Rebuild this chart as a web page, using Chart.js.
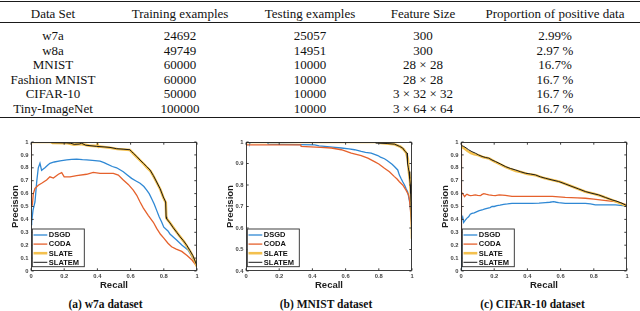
<!DOCTYPE html>
<html><head><meta charset="utf-8">
<script src="https://cdn.jsdelivr.net/npm/chart.js@4.4.0/dist/chart.umd.min.js"></script>
<style>
html,body{margin:0;padding:0;background:#fff;overflow:hidden;}
#root{position:relative;width:640px;height:311px;overflow:hidden;background:#fff;font-family:"Liberation Serif","DejaVu Serif",serif;color:#111;}
.cell{position:absolute;transform:translate(-50%,-50%);white-space:nowrap;font-size:13px;line-height:1;}
.rule{position:absolute;left:0;width:640px;background:#1a1a1a;}
.cap{position:absolute;transform:translate(-50%,-50%);white-space:nowrap;font-weight:bold;font-size:11.5px;line-height:1;}
canvas{position:absolute;}
</style></head><body><div id="root">
<div class="rule" style="top:0.5px;height:1.4px"></div>
<div class="rule" style="top:22px;height:0.8px"></div>
<div class="rule" style="top:116.8px;height:1.4px"></div>
<canvas id="cA" width="213" height="164" style="left:0px;top:134px"></canvas>
<canvas id="cB" width="213" height="164" style="left:215px;top:134px"></canvas>
<canvas id="cC" width="213" height="164" style="left:430px;top:134px"></canvas>
<div class="cap" id="capA" style="left:105.5px;top:305px"></div>
<div class="cap" id="capB" style="left:326px;top:305px"></div>
<div class="cap" id="capC" style="left:532.5px;top:305px"></div>
</div>
<script>
// ---------- table data ----------
const tableHeaders = ['Data Set', 'Training examples', 'Testing examples', 'Feature Size', 'Proportion of positive data'];
const dataSetNames = ['w7a', 'w8a', 'MNIST', 'Fashion MNIST', 'CIFAR-10', 'Tiny-ImageNet'];
const trainingExamples = ['24692', '49749', '60000', '60000', '50000', '100000'];
const testingExamples = ['25057', '14951', '10000', '10000', '10000', '10000'];
const featureSizes = ['300', '300', '28 \u00d7 28', '28 \u00d7 28', '3 \u00d7 32 \u00d7 32', '3 \u00d7 64 \u00d7 64'];
const positiveProportions = ['2.99%', '2.97 %', '16.7%', '16.7 %', '16.7 %', '16.7 %'];

// ---------- chart data ----------
const seriesNames = ['DSGD', 'CODA', 'SLATE', 'SLATEM'];
const captions = ['(a) w7a dataset', '(b) MNIST dataset', '(c) CIFAR-10 dataset'];
const recallTicks = [0, 0.2, 0.4, 0.6, 0.8, 1];

// [recall, precision] pairs
const w7aDSGD = [[0,0.36],[0.004,0.38],[0.012,0.47],[0.024,0.535],[0.035,0.7],[0.044,0.8],[0.054,0.835],[0.064,0.78],[0.074,0.79],[0.084,0.8],[0.1,0.82],[0.114,0.835],[0.14,0.845],[0.175,0.854],[0.215,0.862],[0.245,0.866],[0.275,0.868],[0.31,0.864],[0.335,0.862],[0.37,0.858],[0.416,0.852],[0.44,0.84],[0.456,0.83],[0.49,0.81],[0.516,0.8],[0.556,0.77],[0.58,0.745],[0.606,0.718],[0.63,0.7],[0.657,0.68],[0.68,0.655],[0.697,0.627],[0.712,0.6],[0.727,0.56],[0.742,0.52],[0.757,0.47],[0.772,0.42],[0.787,0.38],[0.8,0.34],[0.825,0.31],[0.837,0.287],[0.86,0.26],[0.877,0.24],[0.91,0.2],[0.948,0.16],[0.975,0.1],[1,0.04]];
const w7aCODA = [[0,1],[0,0.51],[0.008,0.51],[0.014,0.6],[0.024,0.64],[0.044,0.665],[0.064,0.68],[0.094,0.705],[0.114,0.73],[0.135,0.72],[0.165,0.75],[0.185,0.762],[0.2,0.73],[0.235,0.73],[0.275,0.739],[0.335,0.75],[0.375,0.765],[0.416,0.757],[0.496,0.757],[0.526,0.744],[0.556,0.705],[0.586,0.671],[0.616,0.627],[0.637,0.587],[0.657,0.535],[0.677,0.488],[0.707,0.43],[0.737,0.378],[0.757,0.33],[0.78,0.285],[0.8,0.255],[0.825,0.215],[0.847,0.188],[0.875,0.17],[0.908,0.152],[0.94,0.12],[0.97,0.085],[1,0.035]];
const w7aSLATE = [[0,1],[0.12,1],[0.13,0.993],[0.22,0.99],[0.26,0.98],[0.3,0.985],[0.35,0.972],[0.398,0.968],[0.4,0.99],[0.402,0.966],[0.476,0.956],[0.52,0.946],[0.596,0.938],[0.62,0.905],[0.64,0.88],[0.677,0.832],[0.7,0.8],[0.72,0.775],[0.74,0.73],[0.76,0.68],[0.78,0.63],[0.797,0.57],[0.812,0.53],[0.815,0.41],[0.84,0.368],[0.88,0.296],[0.92,0.23],[0.96,0.15],[0.99,0.07],[1,0.035]];
const w7aSLATEM = [[0,1],[0.12,1],[0.125,0.995],[0.215,0.993],[0.24,0.99],[0.26,0.982],[0.29,0.984],[0.305,0.99],[0.33,0.975],[0.396,0.966],[0.44,0.962],[0.476,0.958],[0.516,0.948],[0.56,0.944],[0.596,0.94],[0.606,0.925],[0.616,0.914],[0.637,0.888],[0.657,0.86],[0.677,0.835],[0.697,0.81],[0.717,0.783],[0.737,0.74],[0.757,0.69],[0.777,0.64],[0.797,0.574],[0.811,0.535],[0.814,0.42],[0.817,0.405],[0.837,0.373],[0.857,0.335],[0.878,0.3],[0.898,0.265],[0.918,0.235],[0.938,0.2],[0.958,0.157],[0.975,0.12],[0.988,0.078],[1,0.04]];

const mnistDSGD = [[0,1],[0.02,1],[0.022,0.992],[0.026,1],[0.13,1],[0.134,0.99],[0.414,0.987],[0.44,0.982],[0.474,0.98],[0.52,0.976],[0.574,0.972],[0.62,0.968],[0.654,0.964],[0.694,0.956],[0.72,0.952],[0.754,0.948],[0.794,0.937],[0.81,0.93],[0.834,0.922],[0.85,0.914],[0.864,0.906],[0.88,0.896],[0.894,0.886],[0.914,0.87],[0.924,0.846],[0.934,0.83],[0.944,0.815],[0.955,0.8],[0.964,0.784],[0.974,0.768],[0.984,0.729],[0.99,0.698],[0.994,0.658],[0.998,0.627],[1,0.6]];
const mnistCODA = [[0,1],[0,0.987],[0.33,0.987],[0.332,0.98],[0.45,0.975],[0.514,0.972],[0.574,0.964],[0.6,0.958],[0.634,0.948],[0.694,0.937],[0.734,0.925],[0.774,0.909],[0.8,0.898],[0.814,0.89],[0.834,0.878],[0.864,0.862],[0.894,0.839],[0.91,0.828],[0.924,0.815],[0.944,0.8],[0.964,0.776],[0.98,0.752],[0.985,0.73],[0.99,0.69],[0.994,0.65],[0.998,0.6],[1,0.56]];
const mnistSLATE = [[0,1],[0.8,1],[0.81,0.995],[0.89,0.99],[0.93,0.978],[0.95,0.965],[0.965,0.95],[0.975,0.92],[0.98,0.87],[0.988,0.82],[0.992,0.77],[0.995,0.745],[0.998,0.73],[0.999,0.65],[1,0.55]];
const mnistSLATEM = [[0,1],[0.78,1],[0.782,0.995],[0.85,0.993],[0.894,0.99],[0.91,0.985],[0.924,0.98],[0.944,0.972],[0.958,0.956],[0.97,0.948],[0.972,0.93],[0.974,0.9],[0.978,0.88],[0.982,0.862],[0.986,0.83],[0.99,0.8],[0.992,0.76],[0.994,0.72],[0.996,0.68],[0.998,0.627],[1,0.5]];

const cifarDSGD = [[0,0],[0,0.25],[0.002,0.38],[0.006,0.4],[0.01,0.42],[0.016,0.377],[0.026,0.395],[0.036,0.41],[0.046,0.42],[0.056,0.44],[0.066,0.447],[0.08,0.45],[0.096,0.46],[0.11,0.468],[0.127,0.473],[0.14,0.48],[0.157,0.486],[0.175,0.492],[0.187,0.5],[0.2,0.5],[0.217,0.506],[0.235,0.51],[0.257,0.517],[0.28,0.52],[0.307,0.525],[0.428,0.525],[0.47,0.526],[0.508,0.53],[0.535,0.533],[0.558,0.538],[0.575,0.533],[0.588,0.53],[0.628,0.525],[0.749,0.525],[0.78,0.52],[0.809,0.512],[0.93,0.512],[0.96,0.508],[1,0.504]];
const cifarCODA = [[0,0.25],[0,1],[0.002,0.59],[0.006,0.61],[0.01,0.6],[0.016,0.588],[0.022,0.577],[0.03,0.59],[0.036,0.595],[0.046,0.588],[0.056,0.584],[0.07,0.586],[0.086,0.59],[0.1,0.586],[0.117,0.584],[0.125,0.592],[0.137,0.6],[0.15,0.595],[0.167,0.59],[0.19,0.586],[0.207,0.584],[0.23,0.59],[0.267,0.587],[0.307,0.579],[0.488,0.579],[0.55,0.578],[0.628,0.571],[0.7,0.567],[0.749,0.564],[0.8,0.557],[0.849,0.55],[0.9,0.542],[0.93,0.538],[0.97,0.525],[1,0.512]];
const cifarSLATE = [[0,0.97],[0.01,0.96],[0.025,0.945],[0.04,0.93],[0.06,0.915],[0.08,0.905],[0.1,0.9],[0.13,0.884],[0.17,0.872],[0.2,0.85],[0.24,0.825],[0.27,0.805],[0.3,0.79],[0.33,0.776],[0.36,0.768],[0.4,0.752],[0.45,0.742],[0.5,0.72],[0.55,0.705],[0.6,0.69],[0.65,0.665],[0.7,0.64],[0.75,0.614],[0.8,0.598],[0.85,0.58],[0.9,0.555],[0.95,0.53],[1,0.504]];
const cifarSLATEM = [[0,0.974],[0.008,0.97],[0.016,0.966],[0.03,0.955],[0.046,0.94],[0.066,0.925],[0.086,0.914],[0.105,0.9],[0.127,0.888],[0.147,0.88],[0.167,0.875],[0.187,0.86],[0.207,0.849],[0.237,0.83],[0.267,0.81],[0.297,0.795],[0.327,0.784],[0.357,0.77],[0.388,0.758],[0.418,0.752],[0.448,0.745],[0.478,0.73],[0.508,0.719],[0.548,0.706],[0.588,0.694],[0.628,0.675],[0.669,0.655],[0.709,0.636],[0.749,0.616],[0.789,0.602],[0.829,0.59],[0.87,0.57],[0.91,0.551],[0.94,0.54],[0.97,0.525],[1,0.506]];

// ---------- table ----------
(function buildTable(){
  const root = document.getElementById('root');
  const colX = [53, 180, 310, 423, 555];
  const rowY = [12.5, 35, 49.5, 64, 78.5, 93, 107.5];
  const cols = [dataSetNames, trainingExamples, testingExamples, featureSizes, positiveProportions];
  function add(text, x, y){
    const d = document.createElement('div');
    d.className = 'cell'; d.textContent = text;
    d.style.left = x + 'px'; d.style.top = y + 'px';
    root.appendChild(d);
  }
  tableHeaders.forEach((h, c) => add(h, colX[c], rowY[0]));
  cols.forEach((col, c) => col.forEach((v, r) => add(v, colX[c], rowY[r + 1])));
  ['capA', 'capB', 'capC'].forEach((id, i) => { document.getElementById(id).textContent = captions[i]; });
})();

// ---------- charts ----------
const seriesStyle = [
  {color: '#2f88d4', width: 1.3, order: 4},
  {color: '#e5612c', width: 1.3, order: 3},
  {color: '#f3c04e', width: 2.6, order: 2},
  {color: '#1a1a1a', width: 1.0, order: 1}
];

const boxTicksPlugin = {
  id: 'boxTicks',
  afterDatasetsDraw(chart) {
    const {ctx, chartArea: a, scales: {x, y}} = chart;
    ctx.save();
    ctx.strokeStyle = '#2b2b2b';
    ctx.lineWidth = 0.9;
    const L = Math.round(a.left) + 0.5, R = Math.round(a.right) - 0.5;
    const T = Math.round(a.top) + 0.5, B = Math.round(a.bottom) - 0.5;
    ctx.strokeRect(L, T, R - L, B - T);
    const tl = 2.2;
    ctx.beginPath();
    x.ticks.forEach(t => {
      const px = x.getPixelForValue(t.value);
      ctx.moveTo(px, B); ctx.lineTo(px, B - tl);
      ctx.moveTo(px, T); ctx.lineTo(px, T + tl);
    });
    y.ticks.forEach(t => {
      const py = y.getPixelForValue(t.value);
      ctx.moveTo(L, py); ctx.lineTo(L + tl, py);
      ctx.moveTo(R, py); ctx.lineTo(R - tl, py);
    });
    ctx.stroke();
    ctx.restore();
  },
  afterDraw(chart) {
    const {ctx, chartArea: a} = chart;
    ctx.save();
    const bw = 52, bh = 37.7;
    const bx = a.left + 1.3, by = a.bottom - 4.3 - bh;
    ctx.fillStyle = '#fff';
    ctx.fillRect(bx, by, bw, bh);
    ctx.strokeStyle = '#2b2b2b';
    ctx.lineWidth = 0.9;
    ctx.strokeRect(bx, by, bw, bh);
    ctx.font = 'bold 7.5px "Liberation Sans", Arial, sans-serif';
    ctx.textBaseline = 'middle';
    chart.data.datasets.forEach((ds, i) => {
      const yy = by + 6 + i * 9.1;
      ctx.strokeStyle = ds.borderColor;
      ctx.lineWidth = ds.borderWidth;
      ctx.beginPath(); ctx.moveTo(bx + 1.2, yy); ctx.lineTo(bx + 15, yy); ctx.stroke();
      ctx.fillStyle = '#111';
      ctx.fillText(ds.label, bx + 16.5, yy + 0.3);
    });
    ctx.restore();
  }
};

const fmtTick = v => String(Number(Number(v).toFixed(2)));

function makeChart(id, seriesList, yMin) {
  const datasets = seriesList.map((pts, i) => ({
    label: seriesNames[i],
    data: pts.map(p => ({x: p[0], y: p[1]})),
    borderColor: seriesStyle[i].color,
    backgroundColor: seriesStyle[i].color,
    borderWidth: seriesStyle[i].width,
    order: seriesStyle[i].order,
    pointRadius: 0, tension: 0, fill: false
  }));
  const tickFont = {family: '"Liberation Sans", Arial, sans-serif', size: 5.8, weight: 'bold'};
  const titleFont = {family: '"Liberation Sans", Arial, sans-serif', size: 9.5, weight: 'bold'};
  return new Chart(document.getElementById(id), {
    type: 'line',
    data: {datasets},
    options: {
      responsive: false, animation: false, devicePixelRatio: 1,
      layout: {padding: {left: 0, top: 8, right: 16, bottom: 0}},
      plugins: {legend: {display: false}, tooltip: {enabled: false}},
      scales: {
        x: {
          type: 'linear', min: 0, max: 1,
          afterFit: s => { s.height = 27; },
          afterBuildTicks: s => { s.ticks = recallTicks.map(v => ({value: v})); },
          grid: {display: false, drawTicks: false}, border: {display: false},
          ticks: {font: tickFont, color: '#444', padding: 1.5, maxRotation: 0, autoSkip: false, callback: fmtTick},
          title: {display: true, text: 'Recall', font: titleFont, color: '#1e1e1e', padding: {top: 0, bottom: 7.3}}
        },
        y: {
          type: 'linear', min: yMin, max: 1,
          afterFit: s => { s.width = 31; },
          grid: {display: false, drawTicks: false}, border: {display: false},
          ticks: {stepSize: 0.1, font: tickFont, color: '#444', padding: 2.5, autoSkip: false, callback: fmtTick},
          title: {display: true, text: 'Precision', font: titleFont, color: '#1e1e1e', padding: {top: 9.3, bottom: 0}}
        }
      }
    },
    plugins: [boxTicksPlugin]
  });
}

makeChart('cA', [w7aDSGD, w7aCODA, w7aSLATE, w7aSLATEM], 0);
makeChart('cB', [mnistDSGD, mnistCODA, mnistSLATE, mnistSLATEM], 0.4);
makeChart('cC', [cifarDSGD, cifarCODA, cifarSLATE, cifarSLATEM], 0);
</script>
</body></html>
